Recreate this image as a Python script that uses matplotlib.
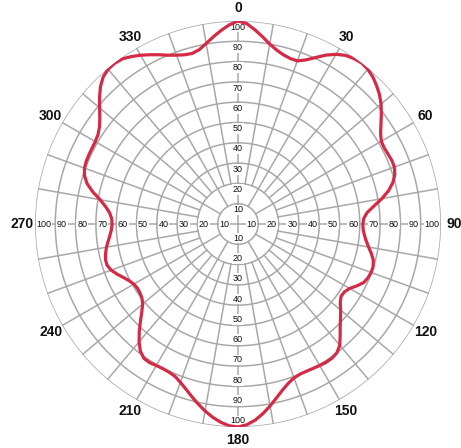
import numpy as np
import matplotlib
matplotlib.use("Agg")
import matplotlib.pyplot as plt

plt.rcParams["font.family"] = ["Liberation Sans", "DejaVu Sans"]

# Relative intensity (percent) every 2.5 degrees, clockwise from 0
angles_deg = [i * 2.5 for i in range(145)]
intensity = [
    100, 98.8, 96, 93, 90, 87.8, 86.3, 85.5,                    # 0-17.5
    85.5, 87.5, 90.5, 93.8, 96.5, 98.5, 99.5, 100,              # 20-37.5
    99.5, 98.3, 96.5, 94.5, 92, 89, 86, 83.3,                   # 40-57.5
    81.5, 81.2, 81.5, 82, 82, 81, 79, 76,                       # 60-77.5
    72, 67.5, 63.8, 62, 61.5, 61.7, 62.5, 63.7,                 # 80-97.5
    65.3, 67.3, 69, 69.8, 69.8, 69.3, 68.3, 66,                 # 100-117.5
    63.5, 62.2, 62, 63.5, 66, 68.5, 71.2, 74.5,                 # 120-137.5
    78, 80, 80.7, 80.8, 80.5, 80.2, 80, 80,                     # 140-157.5
    80.7, 82.3, 84.7, 87.7, 91, 94.2, 97, 99,                   # 160-177.5
    100, 99.5, 98, 96, 93.5, 90.8, 88, 85.3,                    # 180-197.5
    83, 81.2, 80.5, 80.3, 80.5, 81, 80.8, 79,                   # 200-217.5
    75.8, 72, 68, 64.3, 61.3, 59.7, 59, 58.8,                   # 220-237.5
    59.2, 60.5, 62.3, 64.5, 66.5, 67.6, 67.6, 66.8,             # 240-257.5
    65.8, 64.5, 63.3, 62.4, 62, 62.3, 63.5, 65.8,               # 260-277.5
    69, 73.3, 77, 79.3, 80.5, 80.9, 81, 81,                     # 280-297.5
    81.2, 81.8, 83.3, 85.8, 89, 92.5, 95.8, 98.3,               # 300-317.5
    99.5, 99.8, 99.3, 97.8, 96, 94, 92, 90,                     # 320-337.5
    88.5, 87.4, 87, 88, 90.3, 93, 95.7, 98.2,                   # 340-357.5
    100,                                                        # 360
]

ring_values = list(range(10, 110, 10))
angle_labels = list(range(0, 360, 30))

GRID = "#a8a8a8"
RED = "#d42a45"
TEXT = "#111111"

fig = plt.figure(figsize=(4.61, 4.48), dpi=100)
ax = fig.add_axes([35 / 461, 21 / 448, 406 / 461, 406 / 448], projection="polar")
ax.set_theta_zero_location("N")
ax.set_theta_direction(-1)
ax.set_ylim(0, 100)
ax.grid(False)
ax.set_xticks([])
ax.set_yticks([])
ax.spines["polar"].set_visible(False)

# concentric rings
full = np.linspace(0, 2 * np.pi, 721)
for r in ring_values:
    ax.plot(full, np.full_like(full, r), color=GRID, lw=1.1, zorder=1)

# spokes: cardinal ones through the centre, 30-degree ones from ring 10,
# the rest from ring 20
for deg in range(0, 360, 10):
    if deg % 90 == 0:
        r0 = 0
    elif deg % 30 == 0:
        r0 = 10
    else:
        r0 = 20
    t = np.deg2rad(deg)
    ax.plot([t, t], [r0, 100], color=GRID, lw=1.1, zorder=1)

# radial scale along the four cardinal axes
box = dict(facecolor="white", edgecolor="none", pad=0.6)
for v in ring_values:
    kw = dict(fontsize=6.5, color=TEXT, bbox=box, zorder=3)
    ax.text(0, v - 0.8, str(v), ha="center", va="top", **kw)
    ax.text(np.pi, v - 0.8, str(v), ha="center", va="bottom", **kw)
    ax.text(np.pi / 2, v - 0.8, str(v), ha="right", va="center", **kw)
    ax.text(3 * np.pi / 2, v - 0.8, str(v), ha="left", va="center", **kw)

# angle labels
for a in angle_labels:
    ax.text(np.deg2rad(a), 106.5, str(a), ha="center", va="center",
            fontsize=10, fontweight="bold", color=TEXT)

# intensity curve
ax.plot(np.deg2rad(angles_deg), intensity, color=RED, lw=2.3,
        solid_joinstyle="round", solid_capstyle="round", zorder=4)

fig.savefig("out.png", dpi=100, facecolor="white")
